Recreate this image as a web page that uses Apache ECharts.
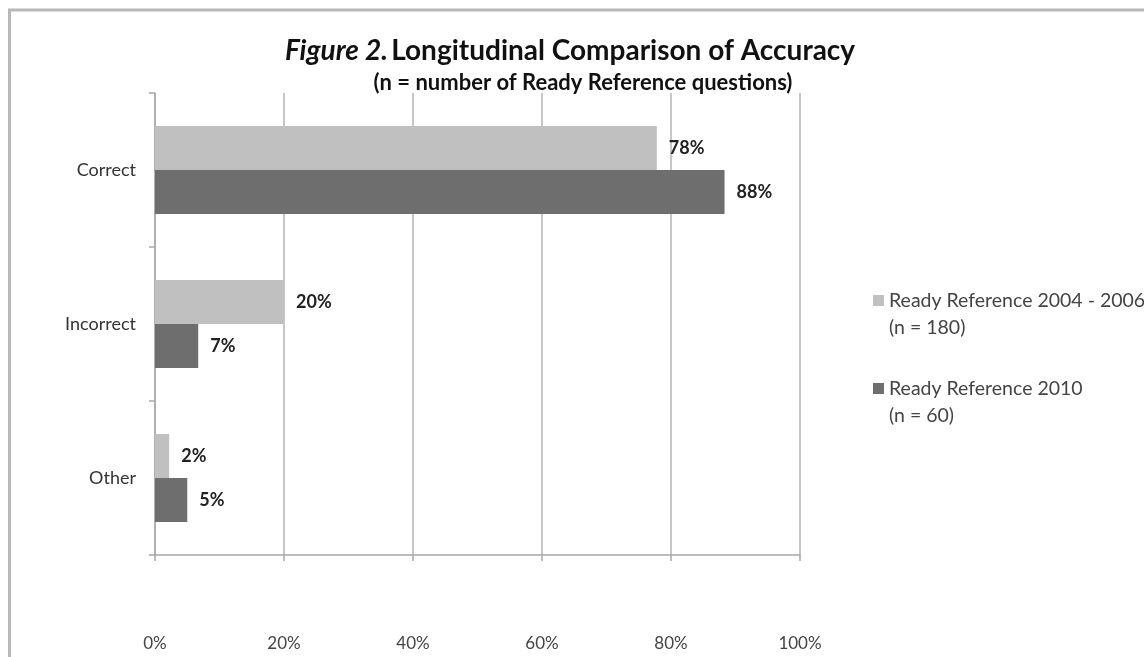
<!DOCTYPE html>
<html>
<head>
<meta charset="utf-8">
<script src="https://cdn.jsdelivr.net/npm/echarts@6/dist/echarts.min.js"></script>
<style>
  html, body { margin: 0; padding: 0; background: #fff; }
  #main { width: 1144px; height: 657px; }
</style>
</head>
<body>
<div id="main"></div>
<script>
// categories and series values (percent of questions)
var categories = ['Correct', 'Incorrect', 'Other'];
var rr2004 = [77.8, 20.0, 2.2];   // Ready Reference 2004 - 2006 (n = 180)
var rr2010 = [88.3, 6.7, 5.0];    // Ready Reference 2010 (n = 60)
var seriesNames = ['Ready Reference 2004 - 2006\n(n = 180)', 'Ready Reference 2010\n(n = 60)'];
var xTicks = [0, 20, 40, 60, 80, 100];

var font = 'Lato, "Open Sans", sans-serif';

var myChart = echarts.init(document.getElementById('main'));

function pctLabel(p) {
    return Math.round(p.value) + '%';
}

myChart.setOption({
    backgroundColor: '#fff',
    animation: false,
    graphic: [
        // chart frame (only top and left edges fall inside the picture)
        { type: 'rect', shape: { x: 9.5, y: 10, width: 1300, height: 800 },
          style: { fill: 'none', stroke: '#b8b8b8', lineWidth: 3 }, silent: true },
        { type: 'text', x: 570, y: 51,
          style: { text: '{i|Figure 2.} {b|Longitudinal Comparison of Accuracy}',
                   align: 'center', verticalAlign: 'middle',
                   rich: {
                       i: { fontFamily: font, fontSize: 28, fontWeight: 'bold', fontStyle: 'italic', fill: '#111' },
                       b: { fontFamily: font, fontSize: 28, fontWeight: 'bold', fill: '#111' }
                   } } },
        { type: 'text', x: 583, y: 83,
          style: { text: '(n = number of Ready Reference questions)', align: 'center', verticalAlign: 'middle',
                   fontFamily: font, fontSize: 22, fontWeight: 'bold', fill: '#111' } }
    ],
    legend: {
        orient: 'vertical',
        left: 868,
        top: 255,
        icon: 'rect',
        itemWidth: 11,
        itemHeight: 11,
        itemGap: 7,
        data: seriesNames,
        // leading empty line keeps the marker level with the first text line
        formatter: function (name) { return '\n' + name; },
        textStyle: { fontFamily: font, fontSize: 19.5, color: '#444', lineHeight: 27 }
    },
    grid: { left: 155, right: 344, top: 93, bottom: 102 },
    xAxis: {
        type: 'value',
        min: xTicks[0],
        max: xTicks[xTicks.length - 1],
        interval: 20,
        axisLine: { show: true, lineStyle: { color: '#a8a8a8', width: 1.5 } },
        axisTick: { show: true, length: 6, lineStyle: { color: '#a8a8a8', width: 1.5 } },
        splitLine: { show: true, lineStyle: { color: '#b4b4b4', width: 1.5 } },
        axisLabel: { formatter: '{value}%', margin: 80, fontFamily: font, fontSize: 17, color: '#444' }
    },
    yAxis: {
        type: 'category',
        inverse: true,
        data: categories,
        axisLine: { show: true, lineStyle: { color: '#a8a8a8', width: 1.5 } },
        axisTick: { show: true, length: 6, lineStyle: { color: '#a8a8a8', width: 1.5 } },
        axisLabel: { margin: 19, fontFamily: font, fontSize: 18, color: '#333' }
    },
    series: [{
        name: seriesNames[0],
        type: 'bar',
        data: rr2004,
        barWidth: 44,
        barGap: '0%',
        itemStyle: { color: '#c0c0c0' },
        label: { show: true, position: 'right', distance: 12, fontFamily: font, fontSize: 18, fontWeight: 'bold', color: '#222',
                 formatter: pctLabel }
    }, {
        name: seriesNames[1],
        type: 'bar',
        data: rr2010,
        barWidth: 44,
        barGap: '0%',
        itemStyle: { color: '#6e6e6e' },
        label: { show: true, position: 'right', distance: 12, fontFamily: font, fontSize: 18, fontWeight: 'bold', color: '#222',
                 formatter: pctLabel }
    }]
}, true);
</script>
</body>
</html>
